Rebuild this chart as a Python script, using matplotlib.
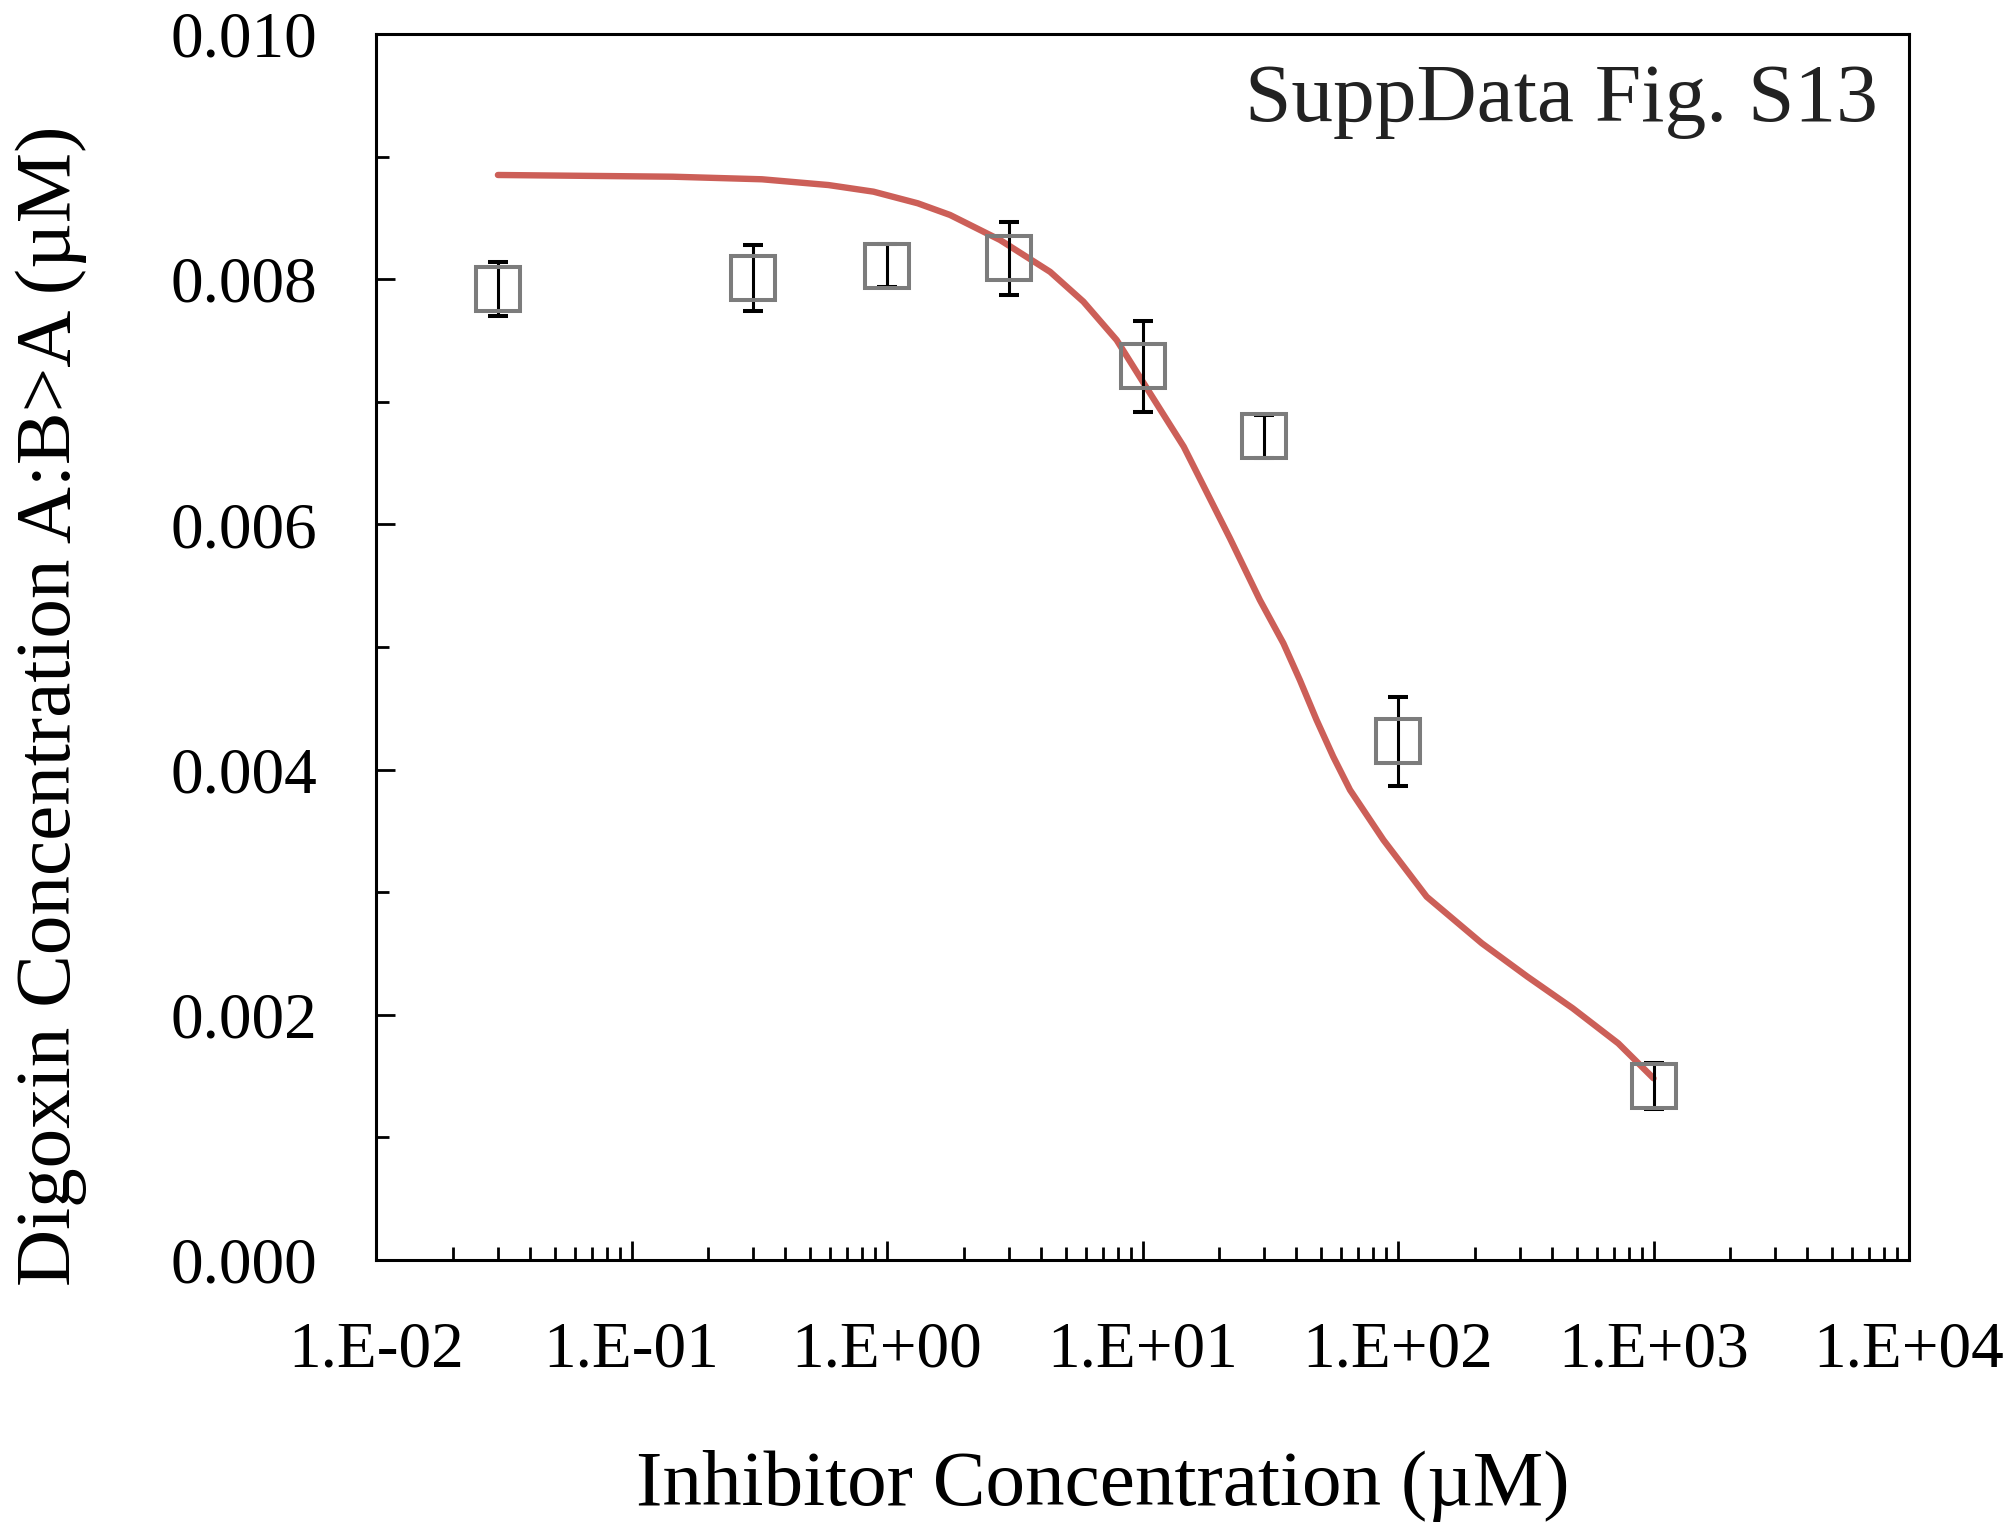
import numpy as np
import matplotlib
matplotlib.use("Agg")
import matplotlib.pyplot as plt
from matplotlib.ticker import FixedLocator, LogLocator, NullFormatter, FuncFormatter

plt.rcParams['font.family'] = ['Liberation Serif', 'DejaVu Serif']

# measured points (inhibitor conc in uM, digoxin conc in uM, error)
conc = [0.03, 0.3, 1, 3, 10, 30, 100, 1000]
digoxin = [0.00792, 0.00801, 0.00811, 0.00817, 0.00729, 0.00672, 0.00423, 0.00142]
err = [0.00022, 0.00027, 0.000175, 0.0003, 0.00037, 0.000175, 0.00036, 0.00019]

# fitted curve
fit_x = [0.03, 0.145, 0.324, 0.59, 0.885, 1.32, 1.765, 2.77, 4.35, 5.87, 7.92, 10.7, 14.5,
         22.0, 28.8, 35.6, 41.3, 48.0, 55.8, 64.9, 87.7, 129.5, 213, 321, 483, 728, 1000]
fit_y = [0.00885, 0.008836, 0.008815, 0.008768, 0.008714, 0.008619, 0.008524, 0.00832,
         0.00806, 0.007817, 0.007504, 0.00707, 0.006634, 0.005886, 0.005383, 0.00503,
         0.00473, 0.004405, 0.004105, 0.003834, 0.003426, 0.002963, 0.002583, 0.002311,
         0.002053, 0.001767, 0.001482]

fig = plt.figure(figsize=(20.13, 15.28), dpi=100)
ax = fig.add_axes([376 / 2013, 1 - 1260 / 1528, (1909 - 376) / 2013, (1260 - 34) / 1528])

ax.plot(fit_x, fit_y, color='#CC5F58', lw=4.6, solid_capstyle='round',
        solid_joinstyle='round', zorder=2)
ax.errorbar(conc, digoxin, yerr=err, fmt='s', mfc='none', mec='#7c7c7c', ms=31, mew=2.9,
            ecolor='black', elinewidth=2.2, capsize=7.2, capthick=2.2, zorder=3)

ax.set_xscale('log')
ax.set_xlim(1e-2, 1e4)
ax.set_ylim(0, 0.010)

ax.xaxis.set_major_locator(LogLocator(base=10, numticks=20))
ax.xaxis.set_minor_locator(LogLocator(base=10, subs=np.arange(2, 10), numticks=20))
ax.xaxis.set_minor_formatter(NullFormatter())
ax.xaxis.set_major_formatter(FuncFormatter(lambda v, p: '1.E%+03d' % int(round(np.log10(v)))))

ax.yaxis.set_major_locator(FixedLocator([0, 0.002, 0.004, 0.006, 0.008, 0.010]))
ax.yaxis.set_minor_locator(FixedLocator([0.001, 0.003, 0.005, 0.007, 0.009]))
ax.yaxis.set_major_formatter(FuncFormatter(lambda v, p: '%.3f' % v))

ax.tick_params(which='both', direction='in', width=2.0, labelsize=47)
ax.tick_params(which='major', length=13.7)
ax.tick_params(which='minor', length=9.5)
ax.tick_params(axis='x', which='major', pad=44)
ax.tick_params(axis='y', which='major', pad=42)
ax.tick_params(top=False, right=False, which='both')

for s in ax.spines.values():
    s.set_linewidth(2.2)

ax.text(0.980, 0.945, 'SuppData Fig. S13', transform=ax.transAxes, ha='right', va='center',
        fontsize=60, color='#222222')

fig.text(1103 / 2013, 1 - 1486 / 1528, 'Inhibitor Concentration (\u00b5M)', ha='center', va='center',
         fontsize=57)
fig.text(51 / 2013, 1 - 706 / 1528, 'Digoxin Concentration A:B>A (\u00b5M)', ha='center', va='center',
         rotation=90, fontsize=57)

fig.savefig('out.png', dpi=100)
